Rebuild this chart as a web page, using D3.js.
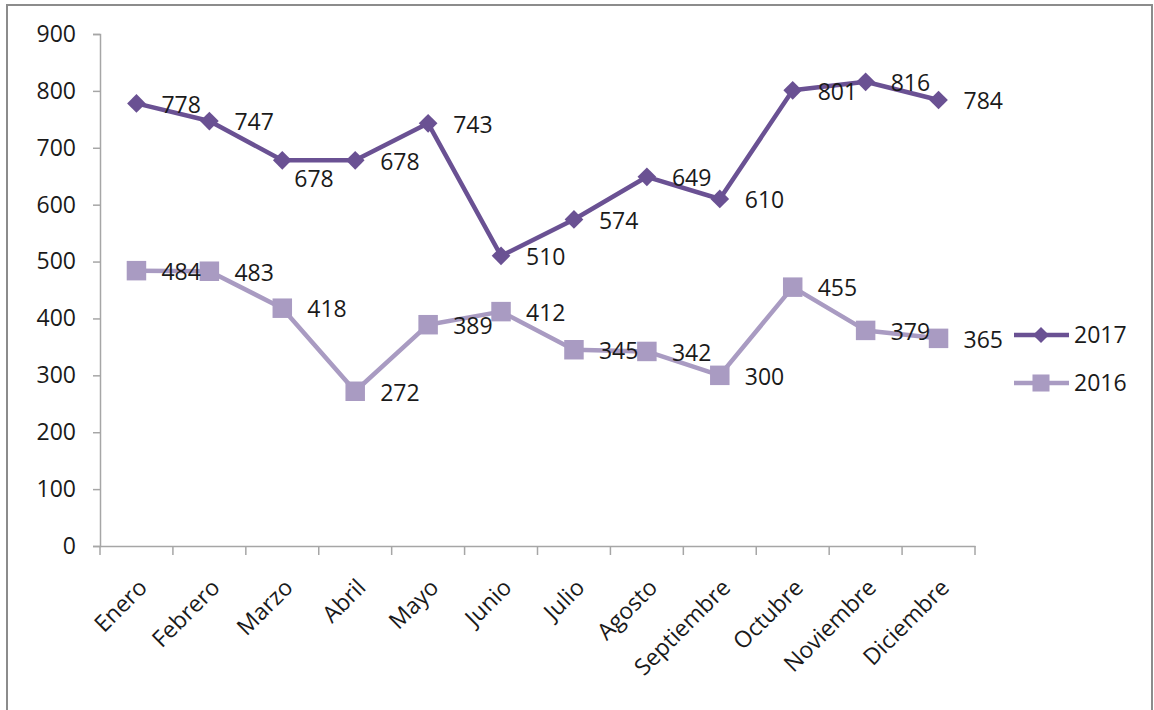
<!DOCTYPE html>
<html>
<head>
<meta charset="utf-8">
<script src="https://cdn.jsdelivr.net/npm/d3@7"></script>
<style>
  body { margin: 0; background: #fff; }
  text { font-family: "Open Sans", sans-serif; fill: #1a1a1a; }
</style>
</head>
<body>
<svg width="1154" height="710"></svg>
<script>
// Data
const months = ["Enero", "Febrero", "Marzo", "Abril", "Mayo", "Junio", "Julio",
  "Agosto", "Septiembre", "Octubre", "Noviembre", "Diciembre"];
const values2017 = [778, 747, 678, 678, 743, 510, 574, 649, 610, 801, 816, 784];
const values2016 = [484, 483, 418, 272, 389, 412, 345, 342, 300, 455, 379, 365];
const yTicks = [0, 100, 200, 300, 400, 500, 600, 700, 800, 900];

const svg = d3.select("svg"),
    width = +svg.attr("width"),
    height = +svg.attr("height");

// outer frame
svg.append("rect")
    .attr("x", 7).attr("y", 5)
    .attr("width", 1145).attr("height", 720)
    .attr("fill", "none")
    .attr("stroke", "#8c8c8c")
    .attr("stroke-width", 2);

const x = d3.scaleBand().domain(months).range([100, 975]);
const y = d3.scaleLinear().domain([0, 900]).range([546, 34]);

const axisColor = "#a6a6a6";
const fontSize = "23px";

// y axis
const yAxis = svg.append("g")
    .attr("transform", "translate(100,0)")
    .call(d3.axisLeft(y).tickValues(yTicks).tickSize(7).tickPadding(17));
yAxis.selectAll("text").style("font-size", fontSize);

// x axis
const xAxis = svg.append("g")
    .attr("transform", "translate(0,546)")
    .call(d3.axisBottom(x).tickSize(0).tickFormat(""));
// ticks sit on the band boundaries
xAxis.selectAll(".bound")
    .data(d3.range(months.length + 1))
    .join("line")
      .attr("class", "bound")
      .attr("x1", i => x.range()[0] + i * x.step())
      .attr("x2", i => x.range()[0] + i * x.step())
      .attr("y1", 0).attr("y2", 9);

svg.selectAll(".domain, .tick line, .bound")
    .attr("stroke", axisColor)
    .attr("stroke-width", 1.5);

// month labels, rotated
svg.append("g")
  .selectAll("text")
  .data(months)
  .join("text")
    .attr("text-anchor", "end")
    .attr("transform", d => `translate(${x(d) + x.bandwidth() / 2 + 12},${589}) rotate(-45)`)
    .style("font-size", fontSize)
    .text(d => d);

const cx = d => x(d) + x.bandwidth() / 2;
const line = d3.line().x(d => cx(d.m)).y(d => y(d.v));

const series = [
  { name: "2017", values: values2017, color: "#6a5193", rot: 45,
    sym: d3.symbol().type(d3.symbolSquare).size(175),
    legendSym: d3.symbol().type(d3.symbolSquare).size(130) },
  { name: "2016", values: values2016, color: "#a99bc2", rot: 0,
    sym: d3.symbol().type(d3.symbolSquare).size(380),
    legendSym: d3.symbol().type(d3.symbolSquare).size(290) }
];

// the one label Excel placed below its point
const labelShift = { "2017-Marzo": [12, 18] };

series.forEach(s => {
  const pts = months.map((m, i) => ({ m: m, v: s.values[i] }));
  svg.append("path")
      .datum(pts)
      .attr("fill", "none")
      .attr("stroke", s.color)
      .attr("stroke-width", 4.5)
      .attr("stroke-linejoin", "round")
      .attr("d", line);
  svg.append("g")
    .selectAll("path")
    .data(pts)
    .join("path")
      .attr("transform", d => `translate(${cx(d.m)},${y(d.v)}) rotate(${s.rot})`)
      .attr("d", s.sym)
      .attr("fill", s.color);
  svg.append("g")
    .selectAll("text")
    .data(pts)
    .join("text")
      .attr("x", d => cx(d.m) + (labelShift[s.name + "-" + d.m] || [25, 1])[0])
      .attr("y", d => y(d.v) + (labelShift[s.name + "-" + d.m] || [25, 1])[1])
      .attr("dy", "0.36em")
      .style("font-size", fontSize)
      .text(d => d.v);
});

// legend
const legend = svg.append("g");
series.forEach((s, i) => {
  const ly = 335 + i * 48;
  legend.append("line")
      .attr("x1", 1014).attr("x2", 1069)
      .attr("y1", ly).attr("y2", ly)
      .attr("stroke", s.color).attr("stroke-width", 4.5);
  legend.append("path")
      .attr("transform", `translate(1041,${ly}) rotate(${s.rot})`)
      .attr("d", s.legendSym)
      .attr("fill", s.color);
  legend.append("text")
      .attr("x", 1074).attr("y", ly)
      .attr("dy", "0.36em")
      .style("font-size", fontSize)
      .text(s.name);
});
</script>
</body>
</html>
